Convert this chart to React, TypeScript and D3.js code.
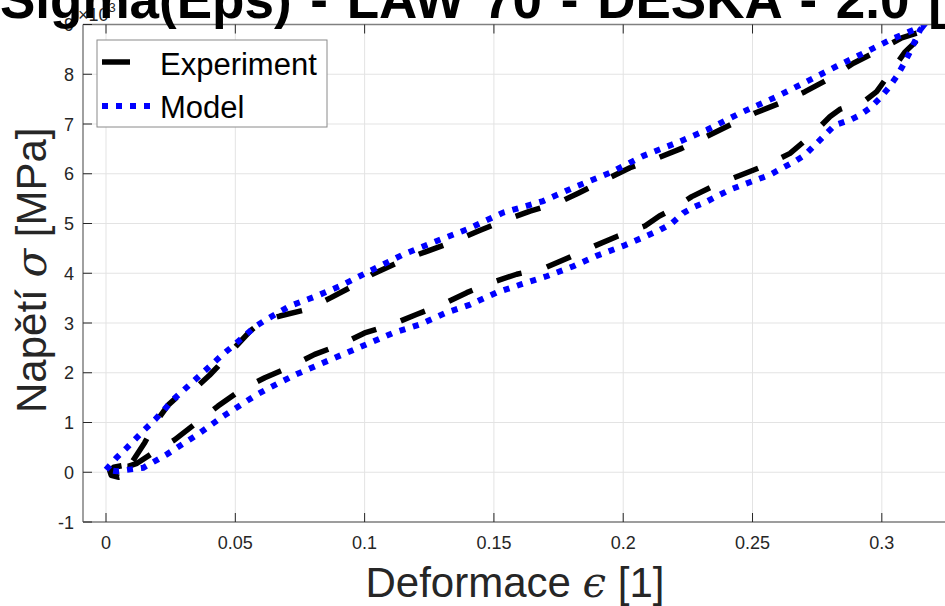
import React from "react";
import * as d3 from "d3";

const expX = [0.006, 0.003, 0.0015, 0.002, 0.005, 0.008, 0.0093, 0.0085, 0.010, 0.015, 0.0196, 0.024, 0.0272, 0.0356, 0.040, 0.0433, 0.0504, 0.056, 0.0607, 0.0672, 0.0775, 0.087, 0.0968, 0.103, 0.1156, 0.1246, 0.135, 0.144, 0.155, 0.164, 0.175, 0.183, 0.1936, 0.2026, 0.213, 0.2226, 0.2323, 0.2413, 0.251, 0.2606, 0.2703, 0.28, 0.289, 0.298, 0.3077, 0.3175, 0.313, 0.309, 0.3045, 0.298, 0.293, 0.289, 0.284, 0.28, 0.2729, 0.2645, 0.2555, 0.2458, 0.2355, 0.2265, 0.2174, 0.214, 0.2084, 0.198, 0.189, 0.1788, 0.1698, 0.1588, 0.149, 0.1395, 0.1298, 0.12, 0.1105, 0.1, 0.091, 0.0807, 0.0717, 0.0614, 0.0523, 0.0433, 0.0349, 0.0265, 0.0182, 0.012, 0.0085, 0.006];
const expY = [0.13, 0.1, 0.02, -0.06, -0.1, -0.07, 0.0, 0.1, 0.2, 0.6, 1.03, 1.35, 1.5, 1.74, 1.95, 2.13, 2.54, 2.85, 3.04, 3.14, 3.27, 3.51, 3.78, 3.98, 4.28, 4.45, 4.65, 4.85, 5.08, 5.25, 5.42, 5.62, 5.89, 6.12, 6.31, 6.51, 6.75, 6.98, 7.22, 7.42, 7.65, 7.92, 8.22, 8.46, 8.73, 8.89, 8.65, 8.45, 8.12, 7.65, 7.45, 7.39, 7.3, 7.15, 6.78, 6.41, 6.18, 5.98, 5.77, 5.54, 5.24, 5.15, 4.95, 4.75, 4.55, 4.31, 4.11, 3.98, 3.81, 3.61, 3.37, 3.17, 2.97, 2.8, 2.57, 2.37, 2.13, 1.9, 1.66, 1.33, 0.99, 0.65, 0.39, 0.18, 0.12, 0.13];

const modelX = [0, 0.004, 0.008, 0.015, 0.019, 0.026, 0.0338, 0.0452, 0.0498, 0.058, 0.062, 0.071, 0.0813, 0.0904, 0.1007, 0.115, 0.1279, 0.1395, 0.1536, 0.169, 0.182, 0.1949, 0.2078, 0.222, 0.2323, 0.2452, 0.2593, 0.2697, 0.2825, 0.2928, 0.3032, 0.3122, 0.3154, 0.3148, 0.311, 0.3083, 0.3058, 0.3025, 0.2993, 0.2954, 0.2916, 0.2877, 0.2819, 0.278, 0.2742, 0.2703, 0.2664, 0.2613, 0.2568, 0.2516, 0.2464, 0.2413, 0.2374, 0.2323, 0.2277, 0.2232, 0.2187, 0.2142, 0.209, 0.2, 0.1897, 0.1807, 0.1704, 0.1607, 0.151, 0.1408, 0.1317, 0.1214, 0.111, 0.102, 0.0916, 0.0826, 0.0736, 0.0633, 0.0583, 0.0454, 0.0363, 0.0235, 0.0144, 0.0041, 0];
const modelY = [0.05, 0.29, 0.49, 0.86, 1.06, 1.46, 1.83, 2.37, 2.57, 2.94, 3.07, 3.34, 3.54, 3.74, 4.01, 4.38, 4.65, 4.88, 5.22, 5.45, 5.75, 6.02, 6.36, 6.65, 6.88, 7.22, 7.55, 7.82, 8.16, 8.42, 8.69, 8.89, 8.93, 8.89, 8.46, 8.19, 7.96, 7.72, 7.52, 7.32, 7.18, 7.08, 6.98, 6.78, 6.58, 6.38, 6.25, 6.11, 5.98, 5.88, 5.78, 5.68, 5.58, 5.44, 5.34, 5.21, 5.0, 4.87, 4.75, 4.55, 4.35, 4.14, 3.94, 3.78, 3.61, 3.37, 3.21, 2.97, 2.8, 2.6, 2.37, 2.17, 1.97, 1.7, 1.56, 1.13, 0.79, 0.36, 0.09, 0.02, 0.05];

const xTicks = [0, 0.05, 0.1, 0.15, 0.2, 0.25, 0.3];
const xTickLabels = ["0", "0.05", "0.1", "0.15", "0.2", "0.25", "0.3"];
const yTicks = [-1, 0, 1, 2, 3, 4, 5, 6, 7, 8, 9];
const legendLabels = ["Experiment", "Model"];

const W = 945, H = 606;
const L = 83, R = 955, T = 24.5, B = 522;
const FONT = "'Liberation Sans', Arial, Helvetica, sans-serif";

export default function App() {
  const x = d3.scaleLinear().domain([-0.0089, 0.3283]).range([L, R]);
  const y = d3.scaleLinear().domain([-1, 9]).range([B, T]);
  const line = d3.line<[number, number]>().x(d => x(d[0])).y(d => y(d[1]));
  const expPts = expX.map((v, i) => [v, expY[i]] as [number, number]);
  const modPts = modelX.map((v, i) => [v, modelY[i]] as [number, number]);
  const tickLen = 9;
  return (
    <svg width={W} height={H} style={{ position: "absolute", left: 0, top: 0, background: "#fff" }} fontFamily={FONT}>
      <defs>
        <clipPath id="plotclip"><rect x={L} y={T} width={R - L} height={B - T} /></clipPath>
      </defs>
      <rect x={L} y={T} width={R - L} height={B - T} fill="#fff" />
      {xTicks.map(t => (
        <line key={"gx" + t} x1={x(t)} x2={x(t)} y1={T} y2={B} stroke="#e3e3e3" strokeWidth={1} />
      ))}
      {yTicks.map(t => (
        <line key={"gy" + t} x1={L} x2={R} y1={y(t)} y2={y(t)} stroke="#e3e3e3" strokeWidth={1} />
      ))}
      <g clipPath="url(#plotclip)">
        <path d={line(expPts) || ""} fill="none" stroke="#000" strokeWidth={5.5} strokeDasharray="26 26" strokeLinejoin="round" />
        <path d={line(modPts) || ""} fill="none" stroke="#0000ff" strokeWidth={6} strokeDasharray="6 8" />
      </g>
      <line x1={L} x2={R} y1={B} y2={B} stroke="#808080" strokeWidth={1.5} />
      <line x1={L} x2={R} y1={T} y2={T} stroke="#808080" strokeWidth={1.5} />
      <line x1={L} x2={L} y1={T} y2={B} stroke="#808080" strokeWidth={1.5} />
      {xTicks.map(t => (
        <g key={"tx" + t}>
          <line x1={x(t)} x2={x(t)} y1={B} y2={B - tickLen} stroke="#262626" strokeWidth={1} />
          <line x1={x(t)} x2={x(t)} y1={T} y2={T + tickLen} stroke="#262626" strokeWidth={1} />
        </g>
      ))}
      {yTicks.map(t => (
        <line key={"ty" + t} x1={L} x2={L + tickLen} y1={y(t)} y2={y(t)} stroke="#262626" strokeWidth={1} />
      ))}
      {xTicks.map((t, i) => (
        <text key={"lx" + t} x={x(t)} y={549} textAnchor="middle" fontSize={18} fill="#262626">{xTickLabels[i]}</text>
      ))}
      {yTicks.map(t => (
        <text key={"ly" + t} x={74} y={y(t) + 6.5} textAnchor="end" fontSize={18} fill="#262626">{String(t)}</text>
      ))}
      <text x={78} y={21} fontSize={18} fill="#262626">×10<tspan dy={-9} fontSize={13}>3</tspan></text>
      <rect x={97} y={40} width={230} height={87} fill="#fff" stroke="#8a8a8a" strokeWidth={1} />
      <line x1={102} x2={130} y1={62} y2={62} stroke="#000" strokeWidth={5.5} />
      <line x1={102} x2={150} y1={106} y2={106} stroke="#0000ff" strokeWidth={6} strokeDasharray="6 8" />
      <text x={160} y={75} fontSize={31} fill="#000">{legendLabels[0]}</text>
      <text x={160} y={118} fontSize={31} fill="#000">{legendLabels[1]}</text>
      <text x={515} y={597} textAnchor="middle" fontSize={42} fill="#262626">Deformace <tspan fontFamily="'DejaVu Serif', serif" fontStyle="italic">ϵ</tspan> [1]</text>
      <text transform={`translate(46,${(T + B) / 2 - 3}) rotate(-90)`} textAnchor="middle" fontSize={42} fill="#262626">Napětí <tspan fontFamily="'DejaVu Serif', serif" fontStyle="italic">σ</tspan> [MPa]</text>
      <text x={0} y={18} fontSize={53} fontWeight="bold" fill="#000" wordSpacing={4}>Sigma(Eps) - LAW 70 - DESKA - 2.0 [-]</text>
    </svg>
  );
}
